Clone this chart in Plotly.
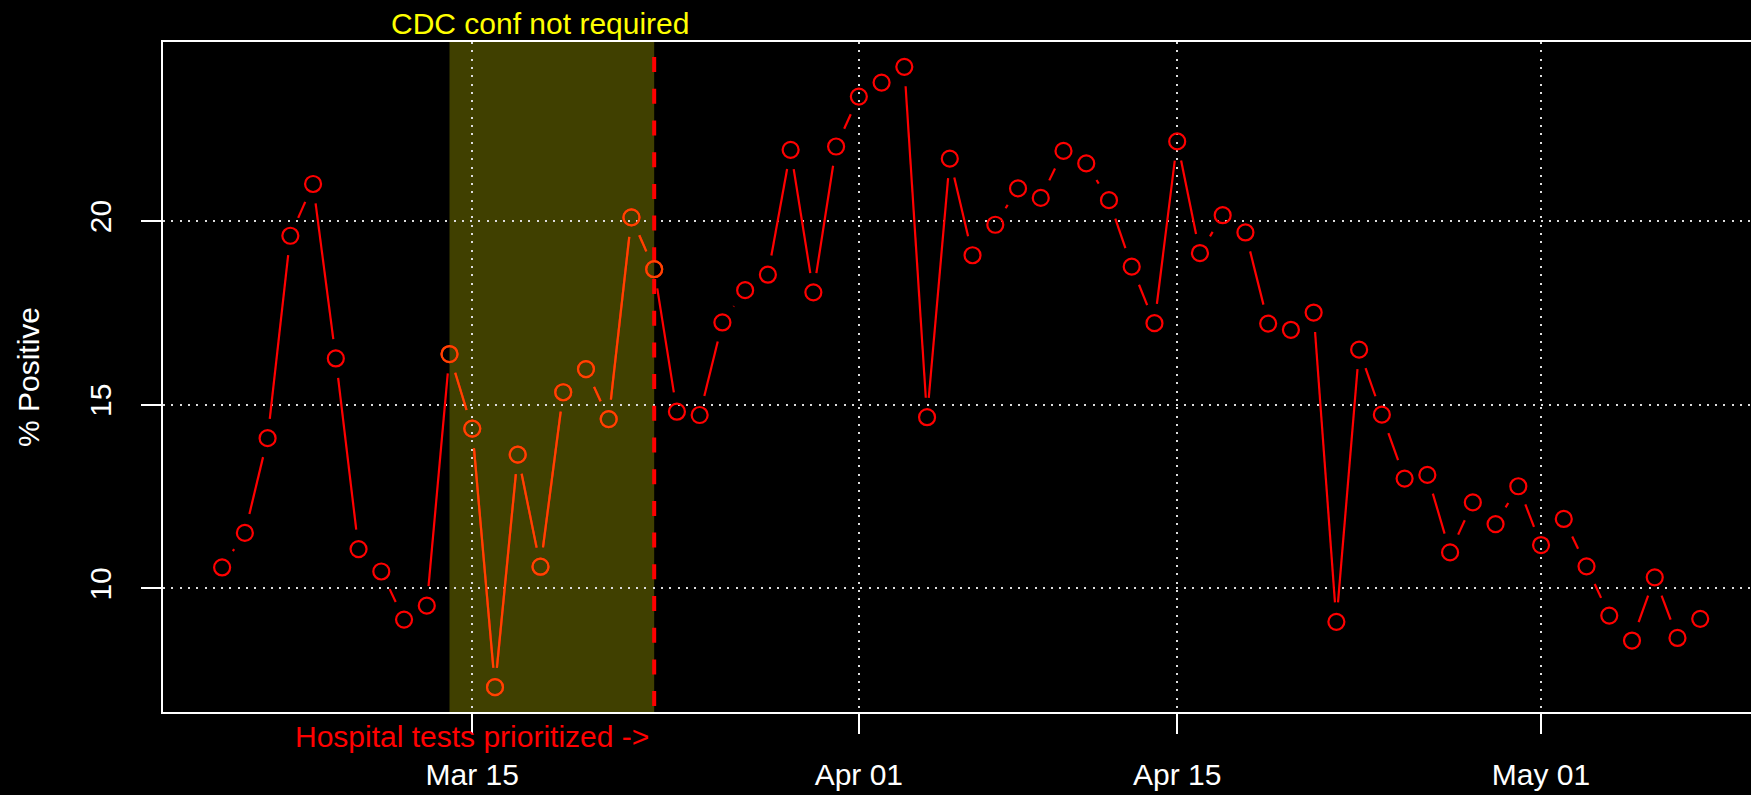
import numpy as np
import pandas as pd
import plotly.graph_objects as go

# ---------------- data ----------------
dates = pd.date_range("2020-03-04", "2020-05-08", freq="D")
pct_positive = [
    10.57, 11.51, 14.09, 19.60, 21.01, 16.26, 11.07, 10.46, 9.15, 9.53,   # Mar 04-13
    16.38, 14.35, 7.31, 13.64, 10.59, 15.34, 15.97, 14.61, 20.10, 18.69,  # Mar 14-23
    14.81, 14.72, 17.24, 18.12, 18.54, 21.94, 18.06, 22.03,               # Mar 24-31
    23.39, 23.77, 24.20, 14.66, 21.70, 19.07, 19.90, 20.89, 20.63, 21.91, # Apr 01-10
    21.57, 20.57, 18.76, 17.22, 22.17, 19.13, 20.16, 19.69, 17.21, 17.04, # Apr 11-20
    17.51, 9.09, 16.50, 14.73, 12.99, 13.09, 10.98, 12.34, 11.75, 12.78,  # Apr 21-30
    11.18, 11.89, 10.60, 9.26, 8.58, 10.30, 8.65, 9.17,                   # May 01-08
]
highlight_start = "2020-03-14"
highlight_end = "2020-03-23"
cdc_label_date = "2020-03-18"
hosp_label_date = "2020-03-15"
x_tick_dates = ["2020-03-15", "2020-04-01", "2020-04-15", "2020-05-01"]
y_ticks = [10, 15, 20]
cdc_text = "CDC conf not required"
hosp_text = "Hospital tests prioritized ->"
y_title = "% Positive"

# ---------------- layout constants ----------------
W, H = 1751, 795
ML, MR, MT, MB = 163, 0, 42, 83
PW, PH = W - ML - MR, H - MT - MB
PX_PER_DAY = 22.74
GAP = 19.5          # R type="b" gap around points (px)
FONT = "Liberation Sans"
RED = "#FF0000"
ORANGE = "#FF4500"

y = np.array(pct_positive, dtype=float)
t = np.array([(d - dates[0]).days for d in dates], dtype=float)
span = t[-1] - t[0]
x0 = t[0] - 0.04 * span
x1 = x0 + PW / PX_PER_DAY
yr = y.max() - y.min()
y0 = y.min() - 0.04 * yr
y1 = y.max() + 0.04 * yr


def to_date(days):
    return dates[0] + pd.to_timedelta(days, unit="D")


def segments(tt, yy):
    xs, ys = [], []
    px = (tt - x0) / (x1 - x0) * PW
    py = (yy - y0) / (y1 - y0) * PH
    for i in range(len(tt) - 1):
        dx, dy = px[i + 1] - px[i], py[i + 1] - py[i]
        d = np.hypot(dx, dy)
        if d <= 2 * GAP:
            continue
        f = GAP / d
        sx, sy = px[i] + dx * f, py[i] + dy * f
        ex, ey = px[i + 1] - dx * f, py[i + 1] - dy * f
        for qx, qy in ((sx, sy), (ex, ey)):
            xs.append(to_date(x0 + qx / PW * (x1 - x0)))
            ys.append(y0 + qy / PH * (y1 - y0))
        xs.append(None)
        ys.append(None)
    return xs, ys


mask = (dates >= pd.Timestamp(highlight_start)) & (dates <= pd.Timestamp(highlight_end))

fig = go.Figure()
sx, sy = segments(t, y)
fig.add_trace(go.Scatter(x=sx, y=sy, mode="lines", line=dict(color=RED, width=2.2),
                         hoverinfo="skip", showlegend=False))
fig.add_trace(go.Scatter(x=dates, y=y, mode="markers",
                         marker=dict(symbol="circle-open", size=16, color=RED,
                                     line=dict(width=2.2, color=RED)),
                         showlegend=False))
hx, hy = segments(t[mask], y[mask])
fig.add_trace(go.Scatter(x=hx, y=hy, mode="lines", line=dict(color=ORANGE, width=2.2),
                         hoverinfo="skip", showlegend=False))
fig.add_trace(go.Scatter(x=dates[mask], y=y[mask], mode="markers",
                         marker=dict(symbol="circle-open", size=16, color=ORANGE,
                                     line=dict(width=2.2, color=ORANGE)),
                         showlegend=False))

# shaded period
fig.add_shape(type="rect", xref="x", yref="paper", x0=highlight_start, x1=highlight_end,
              y0=0, y1=1, fillcolor="rgba(255,255,0,0.25)", line=dict(width=0),
              layer="between")
# dashed vertical marker
fig.add_shape(type="line", xref="x", yref="y", x0=highlight_end, x1=highlight_end,
              y0=y1 + 16.6 / PH * (y1 - y0), y1=y0, line=dict(color=RED, width=4, dash="15px,16.7px"),
              layer="between")

fig.add_annotation(x=cdc_label_date, xref="x", y=1, yref="paper", yanchor="bottom",
                   text=cdc_text, showarrow=False, yshift=0,
                   font=dict(family=FONT, size=30, color="#FFFF00"))
fig.add_annotation(x=hosp_label_date, xref="x", y=0, yref="paper", yanchor="top",
                   text=hosp_text, showarrow=False, yshift=-6,
                   font=dict(family=FONT, size=30, color=RED))

grid = dict(showgrid=True, gridcolor="#dddddd", gridwidth=2, griddash="2px,6.3px")
fig.update_xaxes(type="date", range=[to_date(x0), to_date(x1)], tickvals=x_tick_dates,
                 tickformat="%b %d", ticks="outside", ticklen=20, tickwidth=1.5,
                 tickcolor="white", showline=True, linecolor="white", linewidth=1.5,
                 mirror=True, zeroline=False, ticklabelstandoff=15,
                 tickfont=dict(family=FONT, size=30, color="white"), **grid)
fig.update_yaxes(range=[y0, y1], tickvals=y_ticks, ticks="outside", ticklen=20, tickwidth=1.5,
                 tickcolor="white", showline=True, linecolor="white", linewidth=1.5,
                 mirror=False, zeroline=False, tickangle=-90, ticklabelstandoff=18,
                 tickfont=dict(family=FONT, size=30, color="white"),
                 title=dict(text=y_title, font=dict(family=FONT, size=30, color="white"), standoff=36),
                 **grid)
fig.update_layout(width=W, height=H, margin=dict(l=ML, r=MR, t=MT, b=MB, pad=0),
                  paper_bgcolor="black", plot_bgcolor="black", showlegend=False,
                  font=dict(family=FONT, color="white"))
fig.write_html("out.html", config={"displayModeBar": False},
               post_script="document.body.style.margin='0';document.body.style.overflow='hidden';"
                           "document.body.style.background='black';")
